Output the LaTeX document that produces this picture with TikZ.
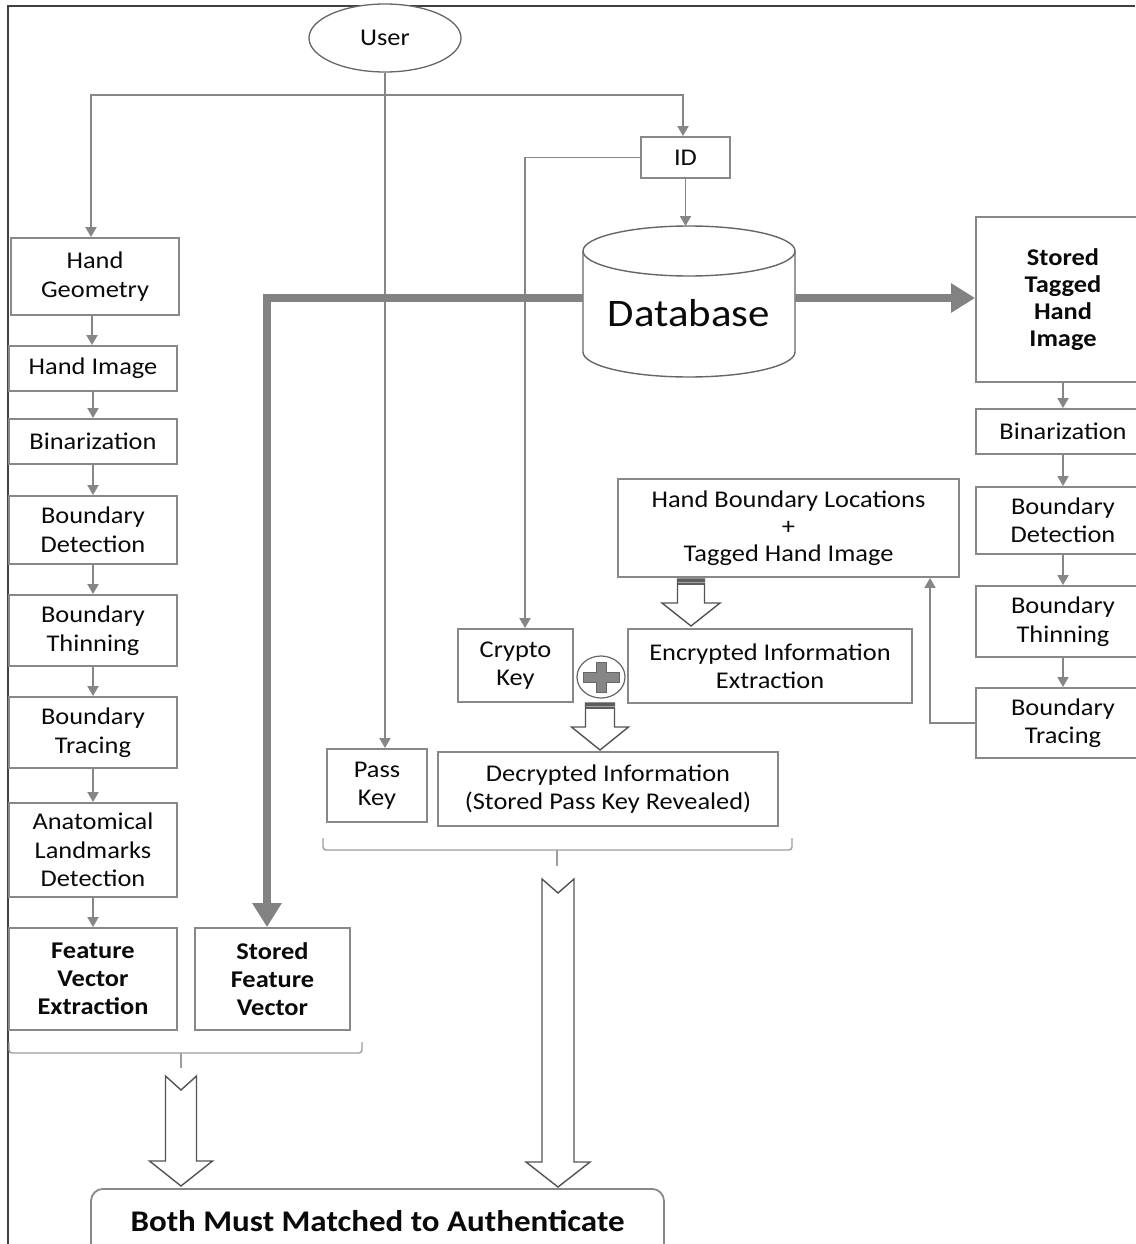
\documentclass[tikz,border=0pt]{standalone}
\usepackage{fontspec}
\setmainfont{Carlito}[FakeStretch=1.1]
\usetikzlibrary{shapes.geometric,arrows.meta}
\definecolor{lg}{HTML}{868686}
\definecolor{bc}{HTML}{888888}
\definecolor{tx}{HTML}{0A0A0A}
\definecolor{fr}{HTML}{404040}
\definecolor{thk}{HTML}{828282}
\newcommand\HollowDn[7]{%
  \draw[hollow] ({#1-#6},#2) -- (#1,{#2+#3}) -- ({#1+#6},#2) -- ({#1+#6},#4) -- ({#1+#7},#4) -- (#1,#5) -- ({#1-#7},#4) -- ({#1-#6},#4) -- cycle;}
\newcommand\HollowBand[3]{%
  \fill[fr!85] ({#1-#3},#2) rectangle ({#1+#3},{#2+6});
  \draw[gray!70, line width=0.8pt] ({#1-#3},{#2+3}) -- ({#1+#3},{#2+3});}
\tikzset{
  sz/.style 2 args={minimum width=#1pt, minimum height=#2pt},
  box/.style={draw=bc, line width=1.9pt, fill=white, align=center, text=tx, inner sep=0pt,
              font=\fontsize{24}{28.5}\selectfont},
  bbox/.style={box, font=\fontsize{24}{28}\selectfont\bfseries},
  conn/.style={draw=lg, line width=1.9pt, -{Triangle[length=10pt,width=11pt]}},
  thick arrow/.style={draw=thk, line width=8pt, line join=miter, -{Triangle[length=24pt,width=28pt]}},
  hollow/.style={draw=fr!90, line width=1.4pt, fill=white, line join=miter},
  brace/.style={draw=lg!80, line width=1.4pt, rounded corners=3pt},
}
\begin{document}
\begin{tikzpicture}[x=1pt,y=-1pt]
\useasboundingbox (0,0) rectangle (1135,1244);
\fill[white] (0,0) rectangle (1135,1244);
% frame
\draw[fr, line width=1.4pt] (8,1244) -- (8,6) -- (1135,6);

% user
\node[draw=fr!80, line width=1.3pt, ellipse, fill=white, sz={152}{68}, text=tx,
      font=\fontsize{24}{28}\selectfont] (user) at (385,38) {User};
\node[box, sz={89}{41}] (id) at (685.5,157.5) {ID};

% database cylinder
\coordinate (dbtop) at (689,226);
\coordinate (dbL) at (583,298);
\coordinate (dbR) at (795,298);
\fill[white] (583,251) rectangle (795,352);
\fill[white] (689,352) ellipse [x radius=106pt, y radius=25pt];
\draw[fr!80, line width=1.4pt] (583,251) -- (583,352) arc[start angle=180, end angle=360, x radius=106pt, y radius=25pt] -- (795,251);
\draw[fr!80, line width=1.4pt, fill=white] (689,251) ellipse [x radius=106pt, y radius=25pt];
\node[text=tx, font=\fontsize{39}{45}\selectfont] (db) at (689,313) {Database};

% stored tagged hand image + right column
\node[bbox, sz={174}{165}, font=\fontsize{24}{27}\selectfont\bfseries] (sthi) at (1063,299.5) {Stored\\Tagged\\Hand\\Image};
\node[box, sz={174}{45}] (bin2) at (1063,431.5) {Binarization};
\node[box, sz={174}{67}] (bd2) at (1063,520.5) {Boundary\\Detection};
\node[box, sz={174}{71}] (bt2) at (1063,621.5) {Boundary\\Thinning};
\node[box, sz={174}{70}] (btr2) at (1063,723) {Boundary\\Tracing};

% left column
\node[box, sz={168}{77}] (hg) at (95,276.5) {Hand\\Geometry};
\node[box, sz={168}{45}] (hi) at (93,368.5) {Hand Image};
\node[box, sz={168}{45}] (bin1) at (93,441.5) {Binarization};
\node[box, sz={168}{68}] (bd1) at (93,530) {Boundary\\Detection};
\node[box, sz={168}{71}] (bt1) at (93,630.5) {Boundary\\Thinning};
\node[box, sz={168}{71}] (btr1) at (93,732.5) {Boundary\\Tracing};
\node[box, sz={168}{94}] (alm) at (93,850) {Anatomical\\Landmarks\\Detection};
\node[bbox, sz={168}{102}] (fve) at (93,979) {Feature\\Vector\\Extraction};
\node[bbox, sz={155}{102}] (sfv) at (272.5,979) {Stored\\Feature\\Vector};

% middle boxes
\node[box, sz={341}{98}, font=\fontsize{24}{27}\selectfont] (hbl) at (788.5,528) {Hand Boundary Locations\\+\\Tagged Hand Image};
\node[box, sz={115}{73}] (ck) at (515.5,665.5) {Crypto\\Key};
\node[box, sz={284}{74}] (eie) at (770,666) {Encrypted Information\\Extraction};
\node[box, sz={100}{73}] (pk) at (377,785.5) {Pass\\Key};
\node[box, sz={340}{74}] (dec) at (608,789) {Decrypted Information\\(Stored Pass Key Revealed)};

% plus
\node[draw=fr!80, line width=1.2pt, ellipse, fill=white, sz={48}{42}] (plus) at (601,677) {};
\draw[fr!80, line width=0.8pt, fill=lg] (583,672) -- (596,672) -- (596,662) -- (606,662) -- (606,672) -- (619,672) -- (619,682) -- (606,682) -- (606,692) -- (596,692) -- (596,682) -- (583,682) -- cycle;

% thin connectors
\coordinate (tj) at (383,95);
\draw[conn] (user.south) -- (user.south |- pk.north);
\draw[conn] (tj) -| ([xshift=-4pt]hg.north);
\draw[conn] (tj) -| ([xshift=-2.5pt]id.north);
\draw[conn] (id.west) -| ([xshift=9.5pt]ck.north);
\draw[conn] (id.south) -- (id.south |- dbtop);
\draw[conn] ([xshift=-3pt]hg.south) -- ([xshift=-1pt]hi.north);
\draw[conn] (hi.south) -- (bin1.north);
\draw[conn] (bin1.south) -- (bd1.north);
\draw[conn] (bd1.south) -- (bt1.north);
\draw[conn] (bt1.south) -- (btr1.north);
\draw[conn] (btr1.south) -- (alm.north);
\draw[conn] (alm.south) -- (fve.north);
\draw[conn] (sthi.south) -- (bin2.north);
\draw[conn] (bin2.south) -- (bd2.north);
\draw[conn] (bd2.south) -- (bt2.north);
\draw[conn] (bt2.south) -- (btr2.north);
\draw[conn] (btr2.west) -| ([xshift=141.5pt]hbl.south);

% thick connectors
\draw[thick arrow] (dbR) -- (dbR -| sthi.west);
\draw[thick arrow] (dbL) -| ([xshift=-5.5pt]sfv.north);

% hollow arrows
\HollowDn{691}{579}{0}{603}{626}{13.5}{29}
\HollowBand{691}{579}{13.5}
\HollowDn{600}{703}{0}{727}{750}{14.5}{28.5}
\HollowBand{600}{703}{14.5}

% braces
\draw[brace] (9,1042) |- (181,1053);
\draw[brace] (362,1042) |- (181,1053);
\draw[lg!80, line width=1.4pt] (181,1053) -- (181,1068);
\draw[brace] (323,838) |- (557,850);
\draw[brace] (792,838) |- (557,850);
\draw[lg!80, line width=1.4pt] (557,850) -- (557,866);

\HollowDn{181}{1076}{14}{1161}{1186}{15.5}{31.5}
\HollowDn{558}{879}{14}{1162}{1187}{16}{32}

% bottom box
\node[draw=bc, line width=1.8pt, rounded corners=12pt, fill=white, sz={573}{90}, anchor=north] (auth) at (377.5,1188) {};
\node[text=tx, font=\fontsize{30}{34}\selectfont\bfseries] (authtxt) at (377.5,1221) {Both Must Matched to Authenticate};
\end{tikzpicture}
\end{document}
